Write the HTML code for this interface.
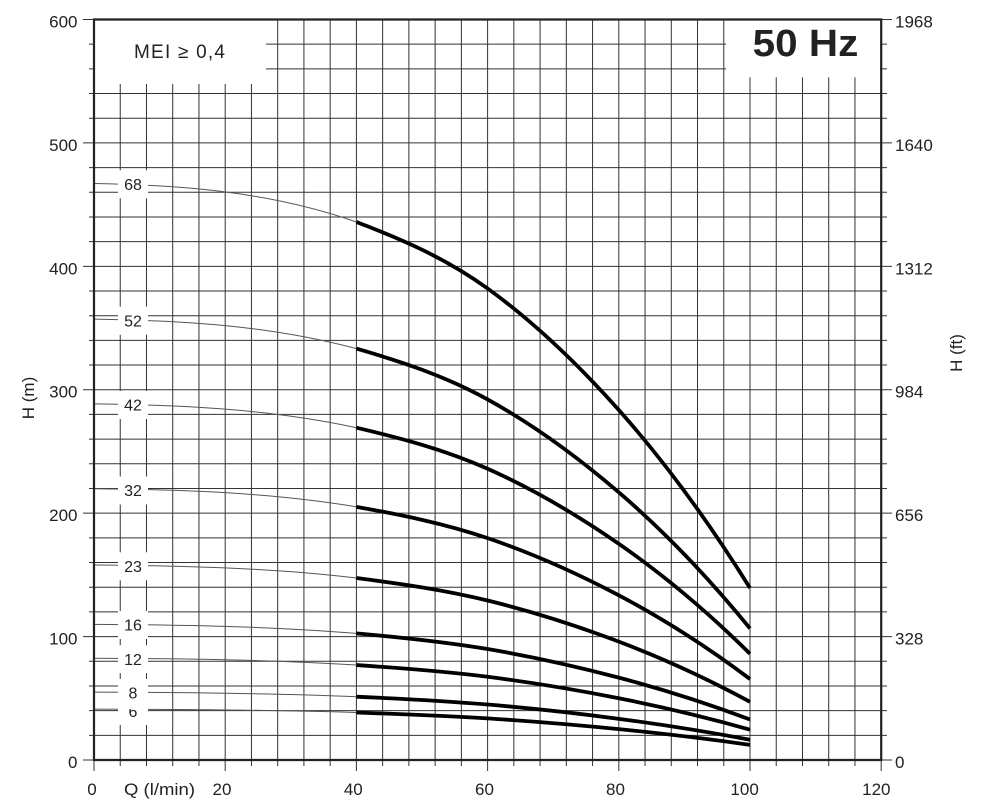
<!DOCTYPE html>
<html>
<head>
<meta charset="utf-8">
<style>
  html,body{margin:0;padding:0;background:#fff;}
  svg{display:block;}
  text{font-family:"Liberation Sans", sans-serif; fill:#222;}
</style>
</head>
<body>
<svg width="981" height="806" viewBox="0 0 981 806" xmlns="http://www.w3.org/2000/svg">
  <rect x="0" y="0" width="981" height="806" fill="#fff"/>

  <!-- grid -->
  <path fill="none" stroke="#333" stroke-width="1" d="
    M120.24 19.5V760M146.48 19.5V760M172.72 19.5V760M198.96 19.5V760M225.2 19.5V760
    M251.44 19.5V760M277.68 19.5V760M303.92 19.5V760M330.16 19.5V760M356.4 19.5V760
    M382.64 19.5V760M408.88 19.5V760M435.12 19.5V760M461.36 19.5V760M487.6 19.5V760
    M513.84 19.5V760M540.08 19.5V760M566.32 19.5V760M592.56 19.5V760M618.8 19.5V760
    M645.04 19.5V760M671.28 19.5V760M697.52 19.5V760M723.76 19.5V760M750 19.5V760
    M776.24 19.5V760M802.48 19.5V760M828.72 19.5V760M854.96 19.5V760
    M94 735.32H881.2M94 710.63H881.2M94 685.95H881.2M94 661.26H881.2M94 636.58H881.2
    M94 611.9H881.2M94 587.21H881.2M94 562.53H881.2M94 537.84H881.2M94 513.16H881.2
    M94 488.48H881.2M94 463.79H881.2M94 439.11H881.2M94 414.42H881.2M94 389.74H881.2
    M94 365.06H881.2M94 340.37H881.2M94 315.69H881.2M94 291H881.2M94 266.32H881.2
    M94 241.64H881.2M94 216.95H881.2M94 192.27H881.2M94 167.58H881.2M94 142.9H881.2
    M94 118.22H881.2M94 93.53H881.2M94 68.85H881.2M94 44.16H881.2"/>

  <!-- white boxes for titles -->
  <rect x="95" y="20" width="171" height="64" fill="#fff"/>
  <rect x="726" y="20" width="154" height="57.3" fill="#fff"/>

  <!-- curves -->
  <g>
    <path fill="none" stroke="#555" stroke-width="1" d="M94,183.5 C181.5,185.2 268.9,191.4 356.4,222"/>
    <path fill="none" stroke="#000" stroke-width="3.8" d="M356.4,222 C400.1,238.6 443.9,257 487.6,288.5 C531.3,320 575.1,361 618.8,410 C662.5,459 706.3,518 750,588"/>
  </g>
  <g transform="translate(0,760) scale(1,0.764706) translate(0,-760)">
    <path vector-effect="non-scaling-stroke" fill="none" stroke="#555" stroke-width="1" d="M94,183.5 C181.5,185.2 268.9,191.4 356.4,222"/>
    <path vector-effect="non-scaling-stroke" fill="none" stroke="#000" stroke-width="3.8" d="M356.4,222 C400.1,238.6 443.9,257 487.6,288.5 C531.3,320 575.1,361 618.8,410 C662.5,459 706.3,518 750,588"/>
  </g>
  <g transform="translate(0,760) scale(1,0.617647) translate(0,-760)">
    <path vector-effect="non-scaling-stroke" fill="none" stroke="#555" stroke-width="1" d="M94,183.5 C181.5,185.2 268.9,191.4 356.4,222"/>
    <path vector-effect="non-scaling-stroke" fill="none" stroke="#000" stroke-width="3.8" d="M356.4,222 C400.1,238.6 443.9,257 487.6,288.5 C531.3,320 575.1,361 618.8,410 C662.5,459 706.3,518 750,588"/>
  </g>
  <g transform="translate(0,760) scale(1,0.470588) translate(0,-760)">
    <path vector-effect="non-scaling-stroke" fill="none" stroke="#555" stroke-width="1" d="M94,183.5 C181.5,185.2 268.9,191.4 356.4,222"/>
    <path vector-effect="non-scaling-stroke" fill="none" stroke="#000" stroke-width="3.8" d="M356.4,222 C400.1,238.6 443.9,257 487.6,288.5 C531.3,320 575.1,361 618.8,410 C662.5,459 706.3,518 750,588"/>
  </g>
  <g transform="translate(0,760) scale(1,0.338235) translate(0,-760)">
    <path vector-effect="non-scaling-stroke" fill="none" stroke="#555" stroke-width="1" d="M94,183.5 C181.5,185.2 268.9,191.4 356.4,222"/>
    <path vector-effect="non-scaling-stroke" fill="none" stroke="#000" stroke-width="3.8" d="M356.4,222 C400.1,238.6 443.9,257 487.6,288.5 C531.3,320 575.1,361 618.8,410 C662.5,459 706.3,518 750,588"/>
  </g>
  <g transform="translate(0,760) scale(1,0.235294) translate(0,-760)">
    <path vector-effect="non-scaling-stroke" fill="none" stroke="#555" stroke-width="1" d="M94,183.5 C181.5,185.2 268.9,191.4 356.4,222"/>
    <path vector-effect="non-scaling-stroke" fill="none" stroke="#000" stroke-width="3.8" d="M356.4,222 C400.1,238.6 443.9,257 487.6,288.5 C531.3,320 575.1,361 618.8,410 C662.5,459 706.3,518 750,588"/>
  </g>
  <g transform="translate(0,760) scale(1,0.176471) translate(0,-760)">
    <path vector-effect="non-scaling-stroke" fill="none" stroke="#555" stroke-width="1" d="M94,183.5 C181.5,185.2 268.9,191.4 356.4,222"/>
    <path vector-effect="non-scaling-stroke" fill="none" stroke="#000" stroke-width="3.8" d="M356.4,222 C400.1,238.6 443.9,257 487.6,288.5 C531.3,320 575.1,361 618.8,410 C662.5,459 706.3,518 750,588"/>
  </g>
  <g transform="translate(0,760) scale(1,0.117647) translate(0,-760)">
    <path vector-effect="non-scaling-stroke" fill="none" stroke="#555" stroke-width="1" d="M94,183.5 C181.5,185.2 268.9,191.4 356.4,222"/>
    <path vector-effect="non-scaling-stroke" fill="none" stroke="#000" stroke-width="3.8" d="M356.4,222 C400.1,238.6 443.9,257 487.6,288.5 C531.3,320 575.1,361 618.8,410 C662.5,459 706.3,518 750,588"/>
  </g>
  <g transform="translate(0,760) scale(1,0.088235) translate(0,-760)">
    <path vector-effect="non-scaling-stroke" fill="none" stroke="#555" stroke-width="1" d="M94,183.5 C181.5,185.2 268.9,191.4 356.4,222"/>
    <path vector-effect="non-scaling-stroke" fill="none" stroke="#000" stroke-width="3.8" d="M356.4,222 C400.1,238.6 443.9,257 487.6,288.5 C531.3,320 575.1,361 618.8,410 C662.5,459 706.3,518 750,588"/>
  </g>

  <!-- curve labels -->
  <g font-size="16" text-anchor="middle">
    <rect x="118" y="170.3" width="30" height="28" fill="#fff"/><text x="133" y="190">68</text>
    <rect x="118" y="306.7" width="30" height="28" fill="#fff"/><text x="133" y="326.4">52</text>
    <rect x="118" y="391" width="30" height="28" fill="#fff"/><text x="133" y="410.7">42</text>
    <rect x="118" y="476.5" width="30" height="28" fill="#fff"/><text x="133" y="496.2">32</text>
    <rect x="118" y="552.3" width="30" height="28" fill="#fff"/><text x="133" y="572">23</text>
    <rect x="118" y="611" width="30" height="28" fill="#fff"/><text x="133" y="630.7">16</text>
    <rect x="118" y="645.2" width="30" height="28" fill="#fff"/><text x="133" y="664.9">12</text>
    <rect x="118" y="697" width="30" height="28" fill="#fff"/><text x="133" y="717">6</text>
    <rect x="118" y="679" width="30" height="30" fill="#fff"/><text x="133" y="698.7">8</text>
  </g>

  <!-- ticks -->
  <path fill="none" stroke="#333" stroke-width="1" d="
    M89 735.32H94M89 710.63H94M89 685.95H94M89 661.26H94M83 636.58H94
    M89 611.9H94M89 587.21H94M89 562.53H94M89 537.84H94M83 513.16H94
    M89 488.48H94M89 463.79H94M89 439.11H94M89 414.42H94M83 389.74H94
    M89 365.06H94M89 340.37H94M89 315.69H94M89 291H94M83 266.32H94
    M89 241.64H94M89 216.95H94M89 192.27H94M89 167.58H94M83 142.9H94
    M89 118.22H94M89 93.53H94M89 68.85H94M89 44.16H94M83 19.48H94M83 760H94
    M881 735.32H887M881 710.63H887M881 685.95H887M881 661.26H887M881 636.58H892
    M881 611.9H887M881 587.21H887M881 562.53H887M881 537.84H887M881 513.16H892
    M881 488.48H887M881 463.79H887M881 439.11H887M881 414.42H887M881 389.74H892
    M881 365.06H887M881 340.37H887M881 315.69H887M881 291H887M881 266.32H892
    M881 241.64H887M881 216.95H887M881 192.27H887M881 167.58H887M881 142.9H892
    M881 118.22H887M881 93.53H887M881 68.85H887M881 44.16H887M881 19.48H892M881 760H892
    M94 760V771M120.24 760V766M146.48 760V766M172.72 760V766M198.96 760V766M225.2 760V771
    M251.44 760V766M277.68 760V766M303.92 760V766M330.16 760V766M356.4 760V771
    M382.64 760V766M408.88 760V766M435.12 760V766M461.36 760V766M487.6 760V771
    M513.84 760V766M540.08 760V766M566.32 760V766M592.56 760V766M618.8 760V771
    M645.04 760V766M671.28 760V766M697.52 760V766M723.76 760V766M750 760V771
    M776.24 760V766M802.48 760V766M828.72 760V766M854.96 760V766M881.2 760V771"/>

  <!-- frame -->
  <path fill="none" stroke="#222" stroke-width="2.2" d="M94 19.5V760H881.2V19.5Z"/>

  <!-- left axis labels -->
  <g font-size="17" text-anchor="end">
    <text x="77.5" y="27.5">600</text>
    <text x="77.5" y="150.9">500</text>
    <text x="77.5" y="274.3">400</text>
    <text x="77.5" y="397.7">300</text>
    <text x="77.5" y="521.2">200</text>
    <text x="77.5" y="644.6">100</text>
    <text x="77.5" y="768">0</text>
  </g>
  <!-- right axis labels -->
  <g font-size="17" text-anchor="start">
    <text x="895" y="27.5">1968</text>
    <text x="895" y="150.9">1640</text>
    <text x="895" y="274.3">1312</text>
    <text x="895" y="397.7">984</text>
    <text x="895" y="521.2">656</text>
    <text x="895" y="644.6">328</text>
    <text x="895" y="768">0</text>
  </g>
  <!-- bottom axis labels -->
  <g font-size="17" text-anchor="middle">
    <text x="92" y="795">0</text>
    <text x="222" y="795">20</text>
    <text x="353.3" y="795">40</text>
    <text x="484.5" y="795">60</text>
    <text x="615.5" y="795">80</text>
    <text x="744.6" y="795">100</text>
    <text x="876.3" y="795">120</text>
  </g>
  <text x="124" y="795" font-size="17" textLength="71" lengthAdjust="spacingAndGlyphs">Q (l/min)</text>

  <!-- axis titles -->
  <text transform="translate(34,398) rotate(-90)" font-size="17" text-anchor="middle">H (m)</text>
  <text transform="translate(962,353) rotate(-90)" font-size="17" text-anchor="middle">H (ft)</text>

  <!-- titles -->
  <text x="134" y="58" font-size="19" textLength="91" lengthAdjust="spacing">MEI ≥ 0,4</text>
  <text x="752.7" y="56" font-size="38" font-weight="bold" textLength="105.6" lengthAdjust="spacingAndGlyphs">50 Hz</text>
</svg>
</body>
</html>
